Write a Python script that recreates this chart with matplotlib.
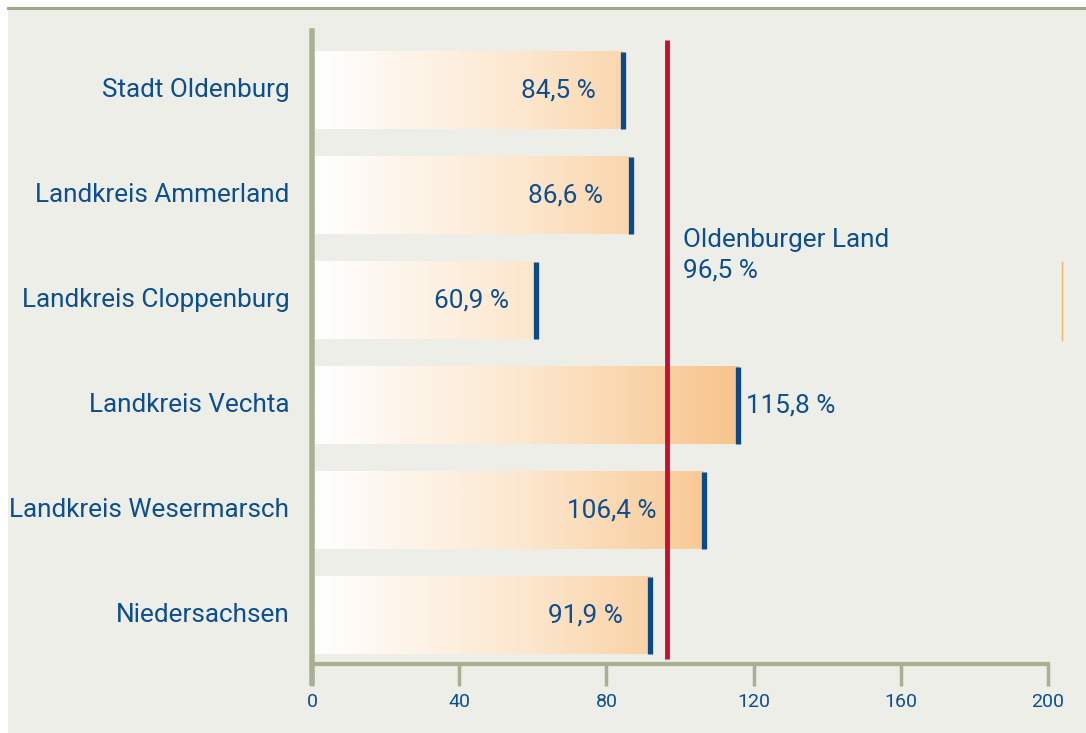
import numpy as np
import matplotlib
matplotlib.use("Agg")
import matplotlib.pyplot as plt
from matplotlib.colors import LinearSegmentedColormap
from matplotlib.lines import Line2D

categories = ["Stadt Oldenburg", "Landkreis Ammerland", "Landkreis Cloppenburg",
              "Landkreis Vechta", "Landkreis Wesermarsch", "Niedersachsen"]
values = [84.5, 86.6, 60.9, 115.8, 106.4, 91.9]
value_labels = ["84,5 %", "86,6 %", "60,9 %", "115,8 %", "106,4 %", "91,9 %"]
reference_value = 96.5
reference_label = "Oldenburger Land\n96,5 %"
xticks = [0, 40, 80, 120, 160, 200]

NAVY = "#0D4E8E"
CAP = "#0B4A8A"
RED = "#C8102E"
BG = "#ECEEE7"
AXC = "#A7B192"
FS = 18.8

plt.rcParams['font.family'] = ['Roboto', 'DejaVu Sans']

fig = plt.figure(figsize=(10.86, 7.33), dpi=100)
fig.patch.set_facecolor("white")
# background panel and top rule
fig.add_artist(plt.Rectangle((8/1086, 0), 1 - 8/1086, 1 - 9/733, transform=fig.transFigure,
                             facecolor=BG, edgecolor="none", zorder=-10))
fig.add_artist(Line2D([8/1086, 1], [1 - 8/733, 1 - 8/733], transform=fig.transFigure,
                      color="#9DAB8C", lw=2.2, zorder=-5))
# small orange artifact line at right
fig.add_artist(Line2D([1062/1086, 1062/1086], [1 - 262/733, 1 - 340/733], transform=fig.transFigure,
                      color="#F9B36A", lw=1.0))

ax = fig.add_axes([312/1086, 1 - 664/733, (1048 - 312)/1086, (664 - 31)/733])
ax.set_facecolor("none")
n = len(categories)

cmap = LinearSegmentedColormap.from_list("g", [(0, "#FFFFFF"), (0.5, "#FCE6CC"), (1, "#F8C389")])
bar_h = 0.734
for i, (v, lab) in enumerate(zip(values, value_labels)):
    grad = np.linspace(0, v, 256)[None, :]
    ax.imshow(grad, cmap=cmap, vmin=0, vmax=118, aspect="auto",
              extent=[0.5, v, i + bar_h/2, i - bar_h/2], zorder=1, interpolation="bilinear")
    ax.plot([v, v], [i - bar_h/2, i + bar_h/2], color=CAP, lw=3.8, solid_capstyle="butt", zorder=3)
    if v > 110:
        ax.text(v + 2.2, i, lab, ha="left", va="center", color=NAVY, fontsize=FS)
    elif v > reference_value:
        ax.text(reference_value - 3, i, lab, ha="right", va="center", color=NAVY, fontsize=FS)
    else:
        ax.text(v - 7.5, i, lab, ha="right", va="center", color=NAVY, fontsize=FS)
    ax.text(-6.2, i, categories[i], ha="right", va="center", color=NAVY, fontsize=FS)

ax.set_ylim(n - 1 + 0.467, -0.567)
ax.set_xlim(0, 200)

# reference line
ax.plot([reference_value, reference_value], [-0.48, n - 1 + 0.42], color=RED, lw=3.5,
        solid_capstyle="butt", zorder=4)
ax.text(reference_value + 4.3, 1.57, reference_label, ha="left", va="center", color=NAVY,
        fontsize=FS, linespacing=1.3)

for s in ["top", "right"]:
    ax.spines[s].set_visible(False)
ax.spines["left"].set_color(AXC)
ax.spines["left"].set_linewidth(4.0)
ax.spines["left"].set_bounds(n - 1 + 0.467 + 0.18, -0.567)
ax.spines["bottom"].set_color(AXC)
ax.spines["bottom"].set_linewidth(3.0)
ax.set_yticks([])
ax.set_xticks(xticks)
ax.set_xticklabels([str(t) for t in xticks])
ax.tick_params(axis="x", length=16, width=2.5, color=AXC, labelcolor=NAVY,
               labelsize=14, pad=5)

fig.savefig("out.png", dpi=100, facecolor=fig.get_facecolor())
